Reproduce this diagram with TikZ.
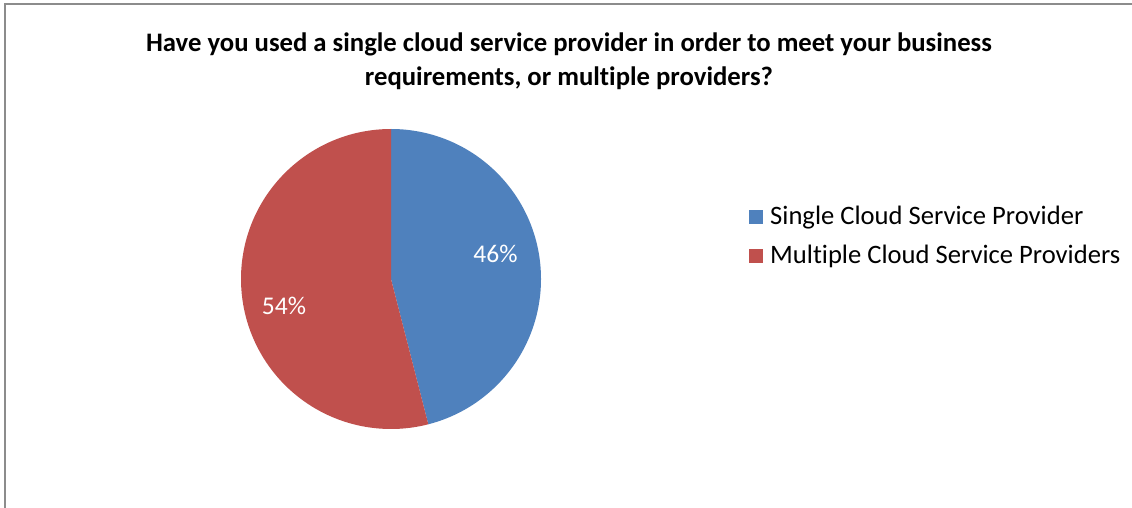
\documentclass[tikz,border=0pt]{standalone}
\usepackage{fontspec}
\setmainfont[Ligatures=NoCommon]{Carlito}
\definecolor{pieblue}{HTML}{4F81BD}
\definecolor{piered}{HTML}{C0504D}
\definecolor{framegray}{HTML}{8C8C8C}
\begin{document}
\begin{tikzpicture}[x=1pt,y=-1pt,
  titlestyle/.style={font=\fontsize{26.7}{34}\selectfont\bfseries, align=center, inner sep=0pt},
  legtext/.style={font=\fontsize{26.6}{32}\selectfont, anchor=base west, inner sep=0pt},
  pcttext/.style={font=\fontsize{25.5}{30}\selectfont, text=white, inner sep=0pt, anchor=base},
  legbox/.style={minimum size=14pt, inner sep=0pt, anchor=center}]
\useasboundingbox (0,0) rectangle (1132,508);
\fill[white] (0,0) rectangle (1132,508);
\draw[framegray, line width=2pt] (5,508) -- (5,4.5) -- (1132,4.5);
% title
\node[titlestyle] (title) at (569,61) {Have you used a single cloud service provider in order to meet your business\\requirements, or multiple providers?};
% pie
\coordinate (c) at (391,279);
\fill[pieblue] (c) -- (391,129) arc[start angle=-90, end angle=75.6, radius=150] -- cycle;
\fill[piered] (c) -- (391,129) arc[start angle=-90, end angle=-284.4, radius=150] -- cycle;
\node[pcttext] (p46) at (495.5,262) {46\%};
\node[pcttext] (p54) at (284,314) {54\%};
% legend
\node[legbox, fill=pieblue] (lb1) at (756,216.5) {};
\node[legtext] (lt1) at (770,224) {Single Cloud Service Provider};
\node[legbox, fill=piered] (lb2) at (756,256) {};
\node[legtext] (lt2) at (770,263.5) {Multiple Cloud Service Providers};
\end{tikzpicture}
\end{document}
